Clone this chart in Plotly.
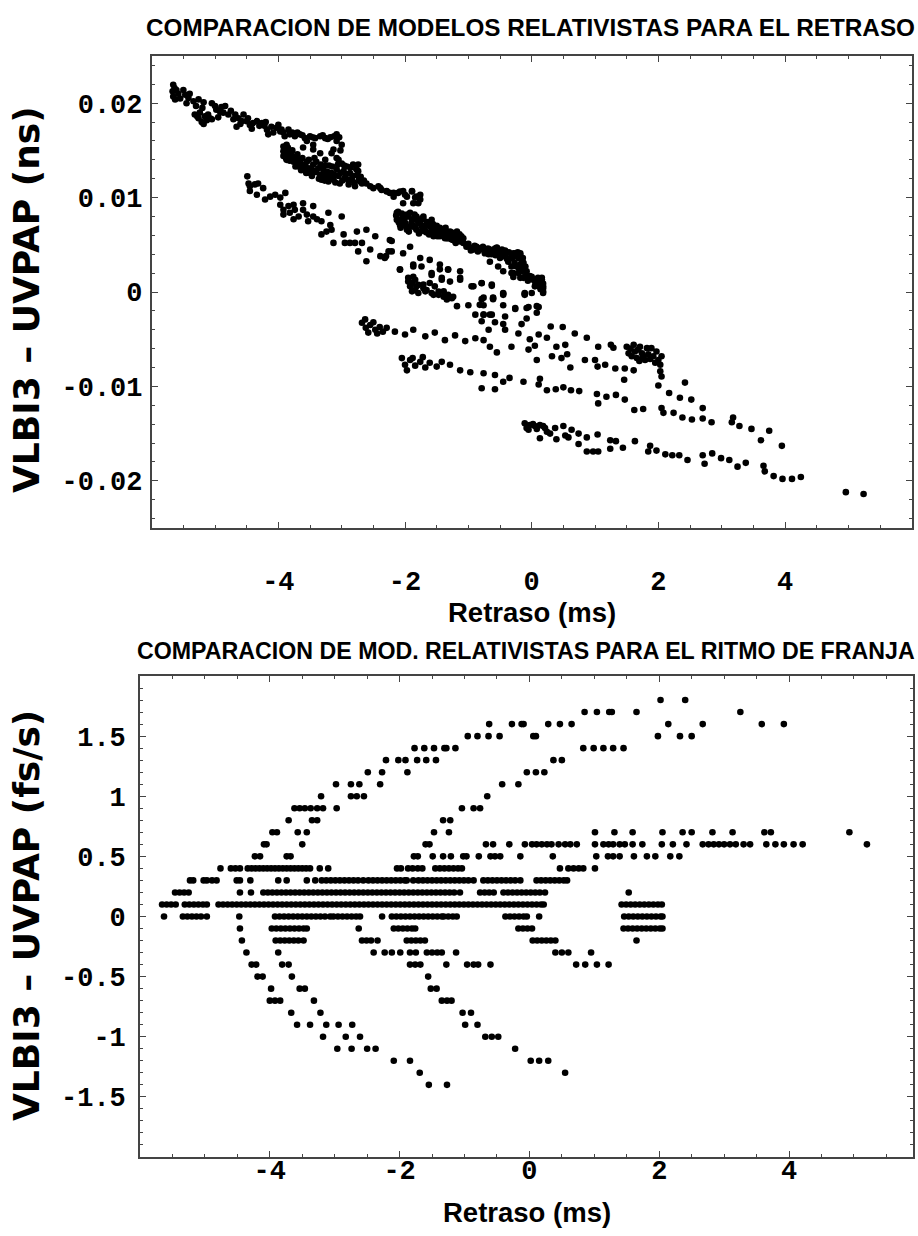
import plotly.graph_objects as go

# ------------------------------------------------------------------
# Panel superior: VLBI3 - UVPAP (ns) frente al retraso (ms)
# ------------------------------------------------------------------
# Rama superior (de -5.7 ms a -1.7 ms)
ret_rama_sup = [
    (-5.66, 0.02196), (-5.67, 0.02126), (-5.66, 0.02070), (-5.63, 0.02040), (-5.61, 0.02140),
    (-5.50, 0.02140), (-5.47, 0.02090), (-5.42, 0.02055), (-5.45, 0.02000), (-5.34, 0.02020),
    (-5.26, 0.02040), (-5.18, 0.02010), (-5.05, 0.02000), (-5.00, 0.01970), (-4.84, 0.01970),
    (-4.92, 0.01910), (-5.32, 0.01880), (-5.24, 0.01900), (-5.26, 0.01840), (-5.16, 0.01860),
    (-5.21, 0.01800), (-5.08, 0.01840), (-5.05, 0.01830), (-5.11, 0.01880), (-4.79, 0.01880),
    (-4.71, 0.01830), (-4.66, 0.01750), (-4.55, 0.01880), (-4.50, 0.01810), (-4.58, 0.01810),
    (-4.45, 0.01770), (-4.34, 0.01810), (-4.26, 0.01790), (-4.18, 0.01720), (-4.16, 0.01670),
    (-4.11, 0.01750), (-4.03, 0.01740), (-3.97, 0.01700), (-3.84, 0.01720), (-3.82, 0.01670),
    (-3.74, 0.01650), (-3.66, 0.01670), (-3.58, 0.01630), (-3.50, 0.01650), (-3.42, 0.01630),
    (-3.34, 0.01650), (-3.26, 0.01630), (-3.18, 0.01640), (-3.08, 0.01670), (-3.08, 0.01600),
    (-3.00, 0.01560), (-3.13, 0.01510), (-3.16, 0.01470), (-3.08, 0.01420), (-3.55, 0.01600),
    (-3.45, 0.01560), (-3.61, 0.01530), (-3.45, 0.01510), (-3.34, 0.01470), (-3.26, 0.01400),
    (-4.98, 0.01930), (-4.87, 0.01900), (-4.63, 0.01840), (-4.40, 0.01790), (-4.22, 0.01760),
    (-3.92, 0.01690), (-3.70, 0.01690),
    (-5.64, 0.02160), (-5.58, 0.02100), (-5.55, 0.02050), (-5.40, 0.02100), (-5.30, 0.01970),
    (-5.20, 0.01950), (-5.13, 0.01820), (-5.28, 0.01860), (-5.18, 0.01780), (-4.95, 0.01850),
    (-4.90, 0.01960), (-4.75, 0.01920), (-4.68, 0.01880), (-4.60, 0.01780), (-4.48, 0.01840),
    (-4.42, 0.01730), (-4.30, 0.01760), (-4.20, 0.01800), (-4.08, 0.01690), (-4.00, 0.01770),
    (-3.95, 0.01720), (-3.90, 0.01650), (-3.78, 0.01690), (-3.62, 0.01660), (-3.46, 0.01640),
    (-3.30, 0.01660), (-3.22, 0.01620), (-3.12, 0.01650), (-3.04, 0.01640), (-3.02, 0.01500),
    (-3.05, 0.01400),
]

# Bloque denso entre -3.95 ms y -2.6 ms
ret_bloque_a = [
    (-3.92, 0.01540), (-3.92, 0.01490), (-3.92, 0.01440), (-3.87, 0.01560), (-3.84, 0.01500),
    (-3.84, 0.01450), (-3.87, 0.01400), (-3.79, 0.01440), (-3.76, 0.01380), (-3.71, 0.01370),
    (-3.71, 0.01420), (-3.68, 0.01330), (-3.63, 0.01350), (-3.61, 0.01300), (-3.55, 0.01380),
    (-3.53, 0.01310), (-3.50, 0.01260), (-3.45, 0.01350), (-3.42, 0.01280), (-3.37, 0.01310),
    (-3.34, 0.01240), (-3.32, 0.01190), (-3.29, 0.01300), (-3.24, 0.01230), (-3.21, 0.01170),
    (-3.16, 0.01260), (-3.13, 0.01190), (-3.08, 0.01300), (-3.05, 0.01230), (-3.03, 0.01150),
    (-2.97, 0.01280), (-2.95, 0.01210), (-2.92, 0.01330), (-2.89, 0.01140), (-2.87, 0.01260),
    (-2.84, 0.01190), (-2.82, 0.01350), (-2.79, 0.01120), (-2.76, 0.01240), (-2.74, 0.01350),
    (-2.71, 0.01170), (-2.74, 0.01280), (-3.80, 0.01480), (-3.65, 0.01400), (-3.40, 0.01380),
    (-3.20, 0.01340), (-3.00, 0.01360), (-2.70, 0.01220),
    (-3.90, 0.01470), (-3.88, 0.01420), (-3.85, 0.01530), (-3.82, 0.01390), (-3.78, 0.01500),
    (-3.75, 0.01430), (-3.73, 0.01330), (-3.70, 0.01460), (-3.67, 0.01380), (-3.64, 0.01290),
    (-3.62, 0.01420), (-3.58, 0.01340), (-3.56, 0.01260), (-3.52, 0.01400), (-3.48, 0.01310),
    (-3.47, 0.01230), (-3.43, 0.01420), (-3.40, 0.01270), (-3.36, 0.01200), (-3.33, 0.01350),
    (-3.30, 0.01250), (-3.27, 0.01180), (-3.25, 0.01340), (-3.22, 0.01270), (-3.18, 0.01210),
    (-3.15, 0.01330), (-3.11, 0.01240), (-3.10, 0.01160), (-3.06, 0.01350), (-3.02, 0.01260),
    (-2.99, 0.01180), (-2.96, 0.01340), (-2.93, 0.01250), (-2.90, 0.01190), (-2.86, 0.01320),
    (-2.83, 0.01230), (-2.80, 0.01160), (-2.77, 0.01300), (-2.73, 0.01210), (-2.68, 0.01150),
    (-2.65, 0.01180),
    (-2.61, 0.01150), (-2.55, 0.01120), (-2.50, 0.01100), (-2.42, 0.01120), (-2.37, 0.01080),
    (-2.29, 0.01070), (-2.24, 0.01050), (-2.18, 0.01010), (-2.11, 0.01050), (-2.03, 0.01070),
    (-1.97, 0.01010), (-1.89, 0.01070), (-1.84, 0.01000), (-1.79, 0.00940), (-1.76, 0.01030),
    (-2.39, 0.01100), (-2.29, 0.01065), (-2.18, 0.01050), (-2.08, 0.01065), (-2.00, 0.01030),
    (-1.89, 0.01065), (-1.82, 0.01010), (-1.76, 0.00980), (-2.03, 0.00940), (-1.87, 0.00940),
]

# Tramo denso entre -2.15 ms y 0.2 ms
ret_bloque_b = [
    (-2.13, 0.00840), (-2.11, 0.00770), (-2.08, 0.00710), (-2.03, 0.00800), (-2.00, 0.00730),
    (-1.97, 0.00660), (-1.92, 0.00840), (-1.89, 0.00770), (-1.87, 0.00700), (-1.82, 0.00800),
    (-1.79, 0.00730), (-1.76, 0.00640), (-1.71, 0.00770), (-1.68, 0.00700), (-1.66, 0.00630),
    (-1.61, 0.00730), (-1.58, 0.00660), (-1.55, 0.00590), (-1.50, 0.00700), (-1.47, 0.00630),
    (-1.42, 0.00660), (-1.39, 0.00590), (-1.34, 0.00640), (-1.32, 0.00570), (-1.26, 0.00630),
    (-1.24, 0.00550), (-1.18, 0.00640), (-1.16, 0.00570), (-1.11, 0.00590), (-1.08, 0.00520),
    (-1.03, 0.00480), (-0.97, 0.00470), (-0.92, 0.00450), (-0.87, 0.00480), (-0.79, 0.00450),
    (-0.71, 0.00430), (-0.63, 0.00400), (-0.55, 0.00470), (-0.50, 0.00410), (-0.42, 0.00430),
    (-0.39, 0.00350), (-0.34, 0.00360), (-0.29, 0.00400), (-0.24, 0.00380), (-0.18, 0.00410),
    (-0.13, 0.00310), (-0.16, 0.00250), (-0.08, 0.00220), (-0.03, 0.00170), (0.03, 0.00130),
    (0.11, 0.00100), (0.16, 0.00130), (0.18, 0.00040),
    (-2.11, 0.00850), (-2.13, 0.00765), (-2.03, 0.00750), (-1.97, 0.00820), (-1.92, 0.00690),
    (-1.87, 0.00765), (-1.82, 0.00660), (-1.76, 0.00730), (-1.71, 0.00800), (-1.68, 0.00640),
    (-1.63, 0.00710), (-1.58, 0.00765), (-1.55, 0.00620), (-1.50, 0.00675), (-1.45, 0.00590),
    (-1.39, 0.00660), (-1.34, 0.00570), (-1.29, 0.00640), (-1.24, 0.00550), (-1.18, 0.00620),
    (-1.13, 0.00535), (-1.08, 0.00570), (-1.03, 0.00500), (-0.95, 0.00460), (-0.87, 0.00450),
    (-0.82, 0.00460), (-0.74, 0.00410), (-0.66, 0.00450), (-0.58, 0.00460), (-0.53, 0.00430),
    (-0.50, 0.00360), (-0.42, 0.00390), (-0.37, 0.00340), (-0.32, 0.00270), (-0.29, 0.00200),
    (-0.26, 0.00410), (-0.21, 0.00360), (-0.18, 0.00290), (-0.16, 0.00220), (-0.13, 0.00150),
    (-0.08, 0.00180), (0.00, 0.00160), (0.08, 0.00130), (0.16, 0.00150), (0.18, 0.00090),
    (0.18, 0.00006), (0.11, 0.00060),
    (-0.79, 0.00465), (-0.71, 0.00450), (-0.55, 0.00465), (-0.42, 0.00440), (-0.29, 0.00410),
    (-0.18, 0.00390), (-0.16, 0.00340), (-0.66, 0.00320), (-0.53, 0.00270), (-0.45, 0.00220),
    (-0.37, 0.00320), (-0.32, 0.00200), (-0.29, 0.00160), (-0.24, 0.00270), (-0.21, 0.00200),
    (-0.18, 0.00150), (-0.13, 0.00230), (-0.11, 0.00160), (-0.05, 0.00150), (0.03, 0.00130),
    (0.11, 0.00110), (0.16, 0.00130), (0.18, 0.00060), (0.18, -0.00010), (0.05, 0.00060),
    (-2.14, 0.00810), (-2.10, 0.00740), (-2.07, 0.00680), (-2.05, 0.00830), (-2.01, 0.00770),
    (-1.99, 0.00700), (-1.95, 0.00800), (-1.94, 0.00640), (-1.90, 0.00730), (-1.85, 0.00820),
    (-1.84, 0.00680), (-1.80, 0.00760), (-1.78, 0.00620), (-1.74, 0.00700), (-1.73, 0.00780),
    (-1.69, 0.00660), (-1.65, 0.00740), (-1.62, 0.00610), (-1.60, 0.00690), (-1.56, 0.00720),
    (-1.53, 0.00640), (-1.49, 0.00590), (-1.45, 0.00680), (-1.41, 0.00620), (-1.37, 0.00570),
    (-1.36, 0.00680), (-1.31, 0.00610), (-1.27, 0.00560), (-1.22, 0.00600), (-1.20, 0.00520),
    (-1.14, 0.00610), (-1.10, 0.00540),
    (-1.00, 0.00510), (-0.96, 0.00440), (-0.90, 0.00490), (-0.85, 0.00430), (-0.77, 0.00480),
    (-0.69, 0.00460), (-0.68, 0.00400), (-0.60, 0.00440), (-0.57, 0.00390), (-0.47, 0.00450),
    (-0.45, 0.00380), (-0.36, 0.00420), (-0.31, 0.00360), (-0.27, 0.00310), (-0.22, 0.00420),
    (-0.20, 0.00250), (-0.14, 0.00360), (-0.10, 0.00270), (-0.06, 0.00120), (0.06, 0.00090),
    (0.14, 0.00030), (0.10, 0.00150),
]

# Rama intermedia (de -4.5 ms a 0 ms)
ret_rama_media = [
    (-4.49, 0.01225), (-4.47, 0.01150), (-4.45, 0.01120), (-4.37, 0.01140), (-4.32, 0.01150),
    (-4.45, 0.01070), (-4.34, 0.01030), (-4.24, 0.01100), (-4.21, 0.00980), (-4.13, 0.01010),
    (-4.05, 0.01030), (-3.97, 0.01000), (-3.89, 0.01050), (-3.97, 0.00925), (-3.92, 0.00870),
    (-3.92, 0.00820), (-3.84, 0.00910), (-3.82, 0.00840), (-3.76, 0.00925), (-3.74, 0.00870),
    (-3.76, 0.00770), (-3.68, 0.00800), (-3.61, 0.00940), (-3.61, 0.00870), (-3.55, 0.00820),
    (-3.53, 0.00750), (-3.45, 0.00910), (-3.45, 0.00800), (-3.39, 0.00770), (-3.32, 0.00750),
    (-3.21, 0.00840), (-3.18, 0.00710), (-3.32, 0.00610), (-3.24, 0.00640), (-3.16, 0.00660),
    (-3.13, 0.00520), (-3.00, 0.00800), (-2.97, 0.00610), (-2.95, 0.00520), (-2.87, 0.00520),
    (-2.79, 0.00520), (-2.76, 0.00640), (-2.74, 0.00430), (-2.68, 0.00520), (-2.61, 0.00660),
    (-2.55, 0.00450), (-2.61, 0.00325), (-2.47, 0.00590), (-2.39, 0.00380), (-2.32, 0.00360),
    (-2.26, 0.00430), (-2.21, 0.00540), (-2.08, 0.00240), (-2.03, 0.00410), (-1.92, 0.00480),
    (-1.87, 0.00270), (-1.76, 0.00360), (-1.74, 0.00270), (-1.61, 0.00340), (-1.58, 0.00180),
    (-1.45, 0.00240), (-1.42, 0.00130), (-1.32, 0.00240), (-1.29, 0.00110), (-1.13, 0.00220),
    (-1.13, 0.00130), (-0.92, 0.00060), (-0.79, 0.00095), (-0.76, -0.00060), (-0.63, 0.00080),
    (-0.61, -0.00060), (-0.45, -0.00030), (-0.11, -0.00030), (0.00, -0.00010),
    (-2.24, 0.00550), (-2.21, 0.00430), (-2.30, 0.00380), (-2.08, 0.00235), (-1.87, 0.00290),
    (-1.58, 0.00200), (-1.45, 0.00290), (-1.42, 0.00150), (-1.32, 0.00235), (-1.13, 0.00150),
    (-0.95, 0.00060), (-0.45, -0.00010), (-0.11, -0.00010),
]

# Grupo en torno a 0 ns entre -2 ms y 0.1 ms
ret_grupo_cero = [
    (-1.95, 0.00110), (-1.92, 0.00060), (-1.89, 0.00007), (-1.84, 0.00130), (-1.82, 0.00060),
    (-1.79, -0.00010), (-1.71, 0.00080), (-1.68, 0.00007), (-1.61, 0.00095), (-1.58, -0.00010),
    (-1.53, 0.00060), (-1.47, -0.00030), (-1.39, 0.00007), (-1.32, -0.00030), (-1.24, -0.00050),
    (-1.95, 0.00150), (-1.87, 0.00160), (-1.89, 0.00095), (-1.84, 0.00020), (-1.79, 0.00075),
    (-1.71, 0.00040), (-1.66, 0.00020), (-1.55, -0.00030), (-1.47, 0.00005), (-1.39, -0.00050),
    (-1.34, -0.00080), (-1.26, -0.00065), (-1.18, -0.00150), (-1.00, -0.00140), (-0.89, -0.00240),
    (-0.76, -0.00240), (-0.63, -0.00240), (-0.76, -0.00140), (-0.61, -0.00065), (-0.45, -0.00140),
    (-0.42, -0.00260), (-0.26, -0.00170), (-0.08, -0.00170), (-0.08, -0.00280), (0.08, -0.00150),
    (0.08, -0.00220),
]

# Ramas inferiores que bajan hacia la derecha
ret_ramas_inf = [
    (-2.68, -0.00326), (-2.62, -0.00380), (-2.55, -0.00350), (-2.47, -0.00400), (-2.40, -0.00370),
    (-2.35, -0.00420), (-2.58, -0.00430), (-2.29, -0.00380), (-2.63, -0.00290), (-2.50, -0.00320),
    (-2.44, -0.00440), (-2.16, -0.00420), (-2.00, -0.00450), (-1.87, -0.00400), (-1.68, -0.00470),
    (-1.53, -0.00430), (-1.37, -0.00510), (-1.21, -0.00460), (-1.05, -0.00520), (-0.89, -0.00490),
    (-2.05, -0.00700), (-2.00, -0.00770), (-1.92, -0.00720), (-1.84, -0.00780), (-1.76, -0.00740),
    (-1.68, -0.00800), (-1.61, -0.00750), (-1.50, -0.00790), (-1.42, -0.00740), (-1.97, -0.00830),
    (-1.88, -0.00700), (-1.72, -0.00690), (-1.29, -0.00770), (-1.13, -0.00830), (-0.97, -0.00850),
    (-0.79, 0.00093), (-0.63, 0.00065), (-0.79, -0.00076), (-0.61, -0.00076), (-0.45, -0.00019),
    (-0.82, -0.00136), (-0.76, -0.00240), (-0.66, -0.00240), (-0.79, -0.00310), (-0.58, -0.00320),
    (-0.45, -0.00340), (-0.68, -0.00400), (-0.42, -0.00400), (-0.76, -0.00510), (-0.66, -0.00580),
    (-0.55, -0.00640), (-0.26, -0.00180), (-0.32, -0.00580), (-0.11, -0.00020), (-0.05, -0.00160),
    (-0.16, -0.00340), (-0.21, -0.00440), (-0.03, -0.00500), (-0.05, -0.00610), (0.11, -0.00160),
    (0.11, -0.00450), (0.05, -0.00570), (0.08, -0.00720), (0.13, -0.00920), (0.11, -0.00980),
    (0.30, -0.00365), (0.49, -0.00370), (0.24, -0.00485), (0.39, -0.00580), (0.53, -0.00560),
    (0.32, -0.00680), (0.47, -0.00700), (0.56, -0.00660), (0.61, -0.00800), (0.68, -0.00440),
    (0.87, -0.00485), (0.84, -0.00720), (1.00, -0.00720), (1.05, -0.00580), (1.04, -0.00790),
    (1.16, -0.00770), (1.25, -0.00560), (1.29, -0.00590), (1.32, -0.00810), (1.47, -0.00810),
    (1.46, -0.00930), (1.61, -0.00830), (1.47, -0.01140), (1.62, -0.01250), (1.76, -0.01240),
    (2.05, -0.01230), (2.08, -0.01280), (2.24, -0.01280), (2.38, -0.01330), (2.53, -0.01350),
    (2.70, -0.01230), (2.70, -0.01340), (2.84, -0.01380), (3.16, -0.01380), (3.18, -0.01330),
    (3.28, -0.01420), (3.47, -0.01450), (3.62, -0.01570), (3.75, -0.01470), (3.95, -0.01630),
    (2.00, -0.00990), (2.17, -0.01070), (2.34, -0.01120), (2.42, -0.00960), (2.52, -0.01140),
    (-0.76, -0.00860), (-0.58, -0.00880), (-0.79, -0.01020), (-0.58, -0.01030), (-0.45, -0.00950),
    (-0.35, -0.00910), (-0.13, -0.00950), (0.24, -0.01040), (0.38, -0.01030), (0.50, -0.01010),
    (0.62, -0.01040), (0.75, -0.01050), (1.03, -0.01080), (1.05, -0.01180), (1.18, -0.01110),
    (1.33, -0.01090),
]

# Grupo compacto cerca de 1.8 ms
ret_grupo_18 = [
    (1.50, -0.00580), (1.53, -0.00650), (1.61, -0.00560), (1.63, -0.00630), (1.66, -0.00700),
    (1.71, -0.00580), (1.74, -0.00650), (1.79, -0.00720), (1.82, -0.00595), (1.84, -0.00660),
    (1.89, -0.00595), (1.92, -0.00680), (1.97, -0.00630), (2.00, -0.00720), (2.03, -0.00770),
    (2.03, -0.00840), (2.05, -0.00895), (2.05, -0.00680), (1.56, -0.00600), (1.68, -0.00610),
    (1.76, -0.00690), (1.87, -0.00710), (1.95, -0.00750), (1.58, -0.00680), (1.70, -0.00730),
]

# Rama mas baja (de 0 ms a 5.2 ms)
ret_rama_baja = [
    (-0.11, -0.01390), (-0.08, -0.01440), (-0.03, -0.01410), (0.05, -0.01420), (0.13, -0.01410),
    (0.21, -0.01440), (0.13, -0.01550), (0.24, -0.01480), (0.29, -0.01500), (0.37, -0.01440),
    (0.39, -0.01560), (0.50, -0.01420), (0.53, -0.01520), (0.58, -0.01540), (0.63, -0.01460),
    (0.74, -0.01500), (0.74, -0.01610), (0.87, -0.01540), (0.87, -0.01690), (0.97, -0.01690),
    (1.05, -0.01690), (1.04, -0.01510), (1.24, -0.01570), (1.24, -0.01660), (1.33, -0.01580),
    (1.44, -0.01650), (1.63, -0.01580), (1.84, -0.01690), (1.87, -0.01630), (1.97, -0.01680),
    (2.11, -0.01720), (2.22, -0.01730), (2.33, -0.01730), (2.46, -0.01780), (2.70, -0.01730),
    (2.73, -0.01820), (2.85, -0.01710), (2.99, -0.01760), (3.12, -0.01780), (3.25, -0.01850),
    (3.38, -0.01810), (3.66, -0.01840), (3.68, -0.01900), (3.82, -0.01950), (3.96, -0.01980),
    (4.11, -0.01980), (4.25, -0.01960), (4.96, -0.02120), (5.24, -0.02140), (-0.05, -0.01460),
    (0.02, -0.01400), (0.08, -0.01450), (0.18, -0.01420),
]

# ------------------------------------------------------------------
# Panel inferior: VLBI3 - UVPAP (fs/s) frente al retraso (ms)
# Los valores del ritmo estan cuantizados a 0.1 fs/s; cada lista
# recoge los retrasos (ms) de los puntos de una misma fila.
# ------------------------------------------------------------------
fila_p18 = [2.02, 2.40]
fila_p17 = [0.85, 1.04, 1.23, 1.27, 1.65, 3.25]
fila_p16 = [-0.62, -0.27, -0.12, -0.09, 0.29, 0.47, 0.65, 2.14, 2.67, 3.58, 3.92]
fila_p15 = [-0.95, -0.80, -0.63, -0.46, 0.06, 0.10, 1.98, 2.32, 2.50]
fila_p14 = [-1.77, -1.62, -1.47, -1.31, -1.28, -1.14, 0.83, 0.99, 1.14, 1.29, 1.45]
fila_p13 = [-2.21, -2.02, -1.91, -1.73, -1.59, -1.44, 0.37, 0.50]
fila_p12 = [-2.49, -2.27, -1.88, -0.04, 0.10, 0.23]
fila_p11 = [-2.98, -2.75, -2.62, -2.30, -0.42, -0.17]
fila_p10 = [-3.21, -2.75, -2.66, -2.55, -0.65]
fila_p09 = [-3.62, -3.54, -3.46, -3.37, -3.27, -3.18, -2.97, -1.04, -0.86, -0.76]
fila_p08 = [-3.71, -3.35, -3.27, -1.33, -1.22]
fila_p07 = [-3.96, -3.89, -3.57, -3.43, -1.47, -1.24, 1.01, 1.31, 1.59, 2.05, 2.36, 2.50,
            2.82, 3.13, 3.62, 3.72, 4.93]
fila_p06 = [-4.09, -4.05, -3.50, -1.60, -1.54, -0.67, -0.56, -0.31, -0.07, 0.04, 0.11, 0.19,
            0.27, 0.34, 0.45, 0.55, 0.63, 0.73, 1.01, 1.14, 1.22, 1.29, 1.39, 1.47, 1.59, 1.74,
            2.04, 2.21, 2.42, 2.67, 2.76, 2.84, 2.92, 3.00, 3.09, 3.18, 3.30, 3.40, 3.65, 3.79,
            3.92, 4.07, 4.21, 5.20]
fila_p05 = [-4.23, -4.15, -3.74, -3.68, -1.78, -1.72, -1.49, -1.33, -1.21, -1.02, -0.97, -0.78,
            -0.60, -0.53, -0.45, -0.14, 0.36, 1.03, 1.21, 1.29, 1.39, 1.61, 1.81, 1.94, 2.17, 2.31]
fila_p04 = [-4.76, -4.60, -4.53, -4.46, -4.34, -4.28, -4.22, -4.16, -4.10, -4.04, -3.98, -3.92,
            -3.86, -3.80, -3.74, -3.68, -3.62, -3.56, -3.50, -3.44, -3.38, -3.23, -3.10, -2.04,
            -1.98, -1.87, -1.80, -1.72, -1.65, -1.45, -1.38, -1.31, -1.24, -1.17, -1.10, -1.04,
            0.47, 0.60, 0.68, 0.76, 0.83, 1.01]
fila_p03 = [-5.23, -5.18, -5.02, -4.97, -4.89, -4.82, -4.51, -4.46, -4.30, -3.87, -3.74, -3.43,
            -3.30, -3.20, -3.13, -3.06, -2.99, -2.92, -2.85, -2.78, -2.71, -2.64, -2.56, -2.48,
            -2.41, -2.34, -2.27, -2.20, -2.13, -2.06, -1.99, -1.92, -1.89, -1.79, -1.71, -1.64,
            -1.57, -1.50, -1.43, -1.36, -1.29, -1.22, -1.15, -1.08, -1.01, -0.94, -0.86, -0.71,
            -0.64, -0.57, -0.50, -0.43, -0.36, -0.29, -0.22, -0.14, 0.11, 0.18, 0.25, 0.32, 0.39,
            0.46, 0.53, 0.58]
fila_p02 = [-5.46, -5.39, -5.32, -5.25, -4.46, -4.29, -4.10, -4.03, -3.96, -3.89, -3.82, -3.75,
            -3.68, -3.61, -3.54, -3.47, -3.40, -3.33, -3.26, -3.19, -3.12, -3.05, -2.98, -2.91,
            -2.84, -2.77, -2.70, -2.63, -2.56, -2.49, -2.42, -2.35, -2.28, -2.21, -2.14, -2.07,
            -2.00, -1.93, -1.86, -1.79, -1.72, -1.65, -1.58, -1.51, -1.44, -1.37, -1.30, -1.23,
            -1.16, -1.07, -0.76, -0.69, -0.62, -0.55, -0.40, -0.33, -0.26, -0.19, -0.12, -0.05,
            0.02, 0.09, 0.16, 0.24, 1.53]
fila_p01 = [-5.66, -5.59, -5.52, -5.45, -5.31, -5.24, -5.17, -5.10, -5.03, -4.97, -4.79, -4.72,
            -4.65, -4.58, -4.51, -4.44, -4.37, -4.30, -4.23, -4.16, -4.09, -4.02, -3.95, -3.88,
            -3.81, -3.74, -3.67, -3.60, -3.53, -3.46, -3.39, -3.32, -3.25, -3.18, -3.11, -3.04,
            -2.97, -2.90, -2.83, -2.76, -2.69, -2.62, -2.55, -2.48, -2.41, -2.34, -2.27, -2.20,
            -2.13, -2.06, -1.99, -1.92, -1.85, -1.78, -1.71, -1.64, -1.57, -1.50, -1.43, -1.36,
            -1.29, -1.22, -1.15, -1.08, -1.01, -0.94, -0.87, -0.80, -0.73, -0.66, -0.59, -0.52,
            -0.45, -0.38, -0.31, -0.24, -0.17, -0.10, -0.03, 0.04, 0.11, 0.18, 0.22, 1.42, 1.49,
            1.56, 1.63, 1.70, 1.77, 1.84, 1.91, 1.98, 2.04]
fila_00 = [-5.63, -5.34, -5.27, -5.20, -5.13, -5.06, -4.97, -4.47, -3.92, -3.85, -3.78, -3.71,
           -3.64, -3.57, -3.50, -3.43, -3.36, -3.29, -3.22, -3.15, -3.07, -3.02, -2.95, -2.88,
           -2.81, -2.74, -2.67, -2.61, -2.27, -2.12, -2.05, -1.98, -1.91, -1.84, -1.77, -1.70,
           -1.63, -1.56, -1.49, -1.42, -1.35, -1.32, -1.25, -1.18, -1.12, -0.37, -0.30, -0.23,
           -0.16, -0.09, -0.04, 0.15, 1.46, 1.53, 1.60, 1.67, 1.74, 1.81, 1.88, 1.95, 2.02, 2.05]
fila_m01 = [-4.46, -3.97, -3.90, -3.83, -3.76, -3.69, -3.62, -3.55, -3.48, -3.43, -2.63, -2.09,
            -2.02, -1.95, -1.88, -1.81, -1.76, -0.17, -0.10, -0.03, 0.04, 1.45, 1.52, 1.59, 1.66,
            1.73, 1.80, 1.87, 1.94, 2.01, 2.05]
fila_m02 = [-4.43, -3.91, -3.84, -3.77, -3.70, -3.63, -3.56, -3.48, -2.58, -2.51, -2.44, -2.34,
            -1.89, -1.82, -1.75, -1.68, -1.61, 0.05, 0.12, 0.19, 0.26, 0.33, 0.40, 1.65]
fila_m03 = [-4.36, -3.87, -2.40, -2.23, -2.12, -1.99, -1.84, -1.75, -1.58, -1.50, -1.42, -1.35,
            -1.13, 0.40, 0.50, 0.60, 0.95]
fila_m04 = [-4.28, -4.21, -3.81, -3.71, -1.84, -1.76, -1.68, -1.28, -0.96, -0.86, -0.79, -0.60,
            0.72, 0.86, 1.04, 1.22]
fila_m05 = [-4.19, -4.11, -3.66, -1.56]
fila_m06 = [-3.98, -3.54, -3.46, -1.52, -1.43]
fila_m07 = [-4.00, -3.92, -3.84, -3.32, -1.35, -1.27, -1.20]
fila_m08 = [-3.67, -3.22, -1.03, -0.90]
fila_m09 = [-3.58, -3.38, -3.13, -2.94, -2.73, -0.99, -0.80]
fila_m10 = [-3.18, -2.83, -2.61, -0.68, -0.58, -0.48]
fila_m11 = [-2.96, -2.74, -2.50, -2.37, -0.22]
fila_m12 = [-2.09, -1.84, 0.02, 0.15, 0.29]
fila_m13 = [-1.69, 0.55]
fila_m14 = [-1.55, -1.27]

filas_ritmo = [
    (1.8, fila_p18), (1.7, fila_p17), (1.6, fila_p16), (1.5, fila_p15), (1.4, fila_p14),
    (1.3, fila_p13), (1.2, fila_p12), (1.1, fila_p11), (1.0, fila_p10), (0.9, fila_p09),
    (0.8, fila_p08), (0.7, fila_p07), (0.6, fila_p06), (0.5, fila_p05), (0.4, fila_p04),
    (0.3, fila_p03), (0.2, fila_p02), (0.1, fila_p01), (0.0, fila_00), (-0.1, fila_m01),
    (-0.2, fila_m02), (-0.3, fila_m03), (-0.4, fila_m04), (-0.5, fila_m05), (-0.6, fila_m06),
    (-0.7, fila_m07), (-0.8, fila_m08), (-0.9, fila_m09), (-1.0, fila_m10), (-1.1, fila_m11),
    (-1.2, fila_m12), (-1.3, fila_m13), (-1.4, fila_m14),
]

# Marcas de los ejes
ret_xticks = [-4, -2, 0, 2, 4]
ret_xtext = ["-4", "-2", "0", "2", "4"]
ret_yticks = [-0.02, -0.01, 0, 0.01, 0.02]
ret_ytext = ["-0.02", "-0.01", "0", "0.01", "0.02"]
rit_yticks = [-1.5, -1, -0.5, 0, 0.5, 1, 1.5]
rit_ytext = ["-1.5", "-1", "-0.5", "0", "0.5", "1", "1.5"]

# ------------------------------------------------------------------
W, H = 918, 1236


def px_x(p):
    return p / W


def px_y(p):
    return 1 - p / H


grupos_ret = [ret_rama_sup, ret_bloque_a, ret_bloque_b, ret_rama_media, ret_grupo_cero,
              ret_ramas_inf, ret_grupo_18, ret_rama_baja]
ret_x = [p[0] for g in grupos_ret for p in g]
ret_y = [p[1] for g in grupos_ret for p in g]

rit_x = [x for v, fila in filas_ritmo for x in fila]
rit_y = [v for v, fila in filas_ritmo for _ in fila]

punto = dict(color="black", size=6.6, line=dict(width=0))

fig = go.Figure()
fig.add_trace(go.Scatter(x=ret_x, y=ret_y, mode="markers", marker=punto,
                         xaxis="x", yaxis="y", hoverinfo="skip"))
fig.add_trace(go.Scatter(x=rit_x, y=rit_y, mode="markers", marker=punto,
                         xaxis="x2", yaxis="y2", hoverinfo="skip"))

tick_font = dict(family="Liberation Mono", size=27, color="black", weight="bold")
frame = dict(showline=True, linecolor="#444444", linewidth=1.6, mirror="allticks",
             ticks="inside", ticklen=6, tickwidth=1, tickcolor="#444444",
             showgrid=False, zeroline=False, tickfont=tick_font, fixedrange=True)

fig.update_layout(
    width=W, height=H, margin=dict(l=0, r=0, t=0, b=0),
    paper_bgcolor="white", plot_bgcolor="white", showlegend=False,
    xaxis=dict(domain=[px_x(151.7), px_x(911.7)], range=[-6, 6], anchor="y",
               tickvals=ret_xticks, ticktext=ret_xtext, ticklabelstandoff=28,
               minor=dict(ticks="inside", ticklen=3, dtick=0.5, tick0=0, tickcolor="#444444"),
               **frame),
    yaxis=dict(domain=[px_y(528), px_y(56)], range=[-0.025, 0.025], anchor="x",
               tickvals=ret_yticks, ticktext=ret_ytext, ticklabelstandoff=2,
               minor=dict(ticks="inside", ticklen=3, dtick=0.002, tick0=0, tickcolor="#444444"),
               **frame),
    xaxis2=dict(domain=[px_x(140), px_x(913)], range=[-6.0, 5.91], anchor="y2",
                tickvals=ret_xticks, ticktext=ret_xtext, ticklabelstandoff=-12,
                minor=dict(ticks="inside", ticklen=3, dtick=0.5, tick0=0, tickcolor="#444444"),
                **frame),
    yaxis2=dict(domain=[px_y(1157), px_y(676)], range=[-2, 2], anchor="x2",
                tickvals=rit_yticks, ticktext=rit_ytext, ticklabelstandoff=7,
                minor=dict(ticks="inside", ticklen=3, dtick=0.1, tick0=0, tickcolor="#444444"),
                **frame),
)

titulo1_font = dict(family="Liberation Sans", size=24.3, color="black", weight="bold")
titulo2_font = dict(family="Liberation Sans", size=23.2, color="black", weight="bold")
eje_font = dict(family="Liberation Sans", size=27.5, color="black", weight="bold")
ejey_font = dict(family="DejaVu Sans", size=36, color="black", weight="bold")

textos = [
    ("COMPARACION DE MODELOS RELATIVISTAS PARA EL RETRASO", 530.5, 28, 0, titulo1_font),
    ("COMPARACION DE MOD. RELATIVISTAS PARA EL RITMO DE FRANJA", 526, 651, 0, titulo2_font),
    ("Retraso (ms)", 531.7, 612, 0, eje_font),
    ("Retraso (ms)", 526.5, 1212, 0, eje_font),
    ("VLBI3 \u2013 UVPAP (ns)", 26, 300, -90, ejey_font),
    ("VLBI3 \u2013 UVPAP (fs/s)", 26, 916, -90, ejey_font),
]
for txt, x, y, ang, f in textos:
    fig.add_annotation(text=txt, x=px_x(x), y=px_y(y), xref="paper", yref="paper",
                       xanchor="center", yanchor="middle", showarrow=False,
                       textangle=ang, font=f)

fig.write_html("out.html")
